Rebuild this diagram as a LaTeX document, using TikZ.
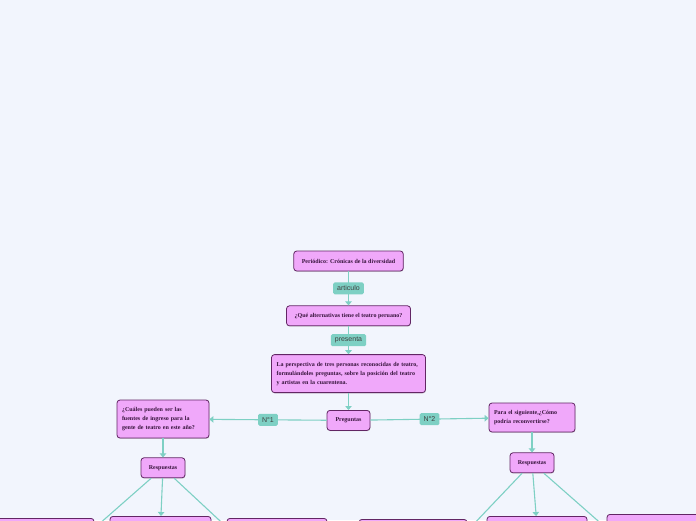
\documentclass[tikz,border=0pt]{standalone}
\usepackage{fontspec}
\setmainfont{Liberation Serif}
\newfontfamily\tagfont{Liberation Sans}
\usepackage{tikz}
\usetikzlibrary{arrows.meta, positioning, shadows}
\definecolor{mmbg}{RGB}{242,245,253}
\definecolor{mmpink}{RGB}{240,168,250}
\definecolor{mmborder}{RGB}{98,38,100}
\definecolor{mmteal}{RGB}{126,208,196}
\definecolor{mmtext}{RGB}{55,20,60}

\begin{document}
\begin{tikzpicture}[
  x=1pt, y=-1pt,
  topic/.style={
    rectangle, rounded corners=3pt,
    draw=mmborder, line width=0.8pt, fill=mmpink,
    drop shadow={shadow xshift=0.4pt, shadow yshift=-0.8pt, opacity=0.35},
    minimum height=20pt, inner xsep=8pt,
    font=\fontsize{6}{9}\selectfont\bfseries, text=mmtext
  },
  para/.style={topic, align=left, inner xsep=5pt},
  tag/.style={
    rectangle, rounded corners=1.5pt, fill=mmteal,
    font=\tagfont\fontsize{7}{8}\selectfont, text=black!75,
    inner xsep=4pt, inner ysep=1pt, minimum height=12pt
  },
  arrow/.style={-{Triangle[length=4pt, width=6.5pt]}, line width=1.1pt, color=mmteal},
  link/.style={line width=1.1pt, color=mmteal}
]
  \useasboundingbox (0,0) rectangle (696,520);
  \fill[mmbg] (0,0) rectangle (696,520);
  \clip (0,0) rectangle (696,520);

  \node[topic, minimum width=109pt] (per) at (348.5,261) {Periódico: Crónicas de la diversidad};
  \node[topic, minimum width=124pt, below=34pt of per] (alt) {¿Qué alternativas tiene el teatro peruano?};
  \node[para, text width=144pt, minimum height=38pt, below=28pt of alt] (pers) {La perspectiva de tres personas reconocidas de teatro,\\formulándoles preguntas, sobre la posición del teatro\\y artistas en la cuarentena.};
  \node[topic, minimum width=43pt, inner xsep=3pt, below=17pt of pers] (preg) {Preguntas};
  \node[para, text width=82pt, minimum height=38pt] (q1) at (163,419) {¿Cuáles pueden ser las\\fuentes de ingreso para la\\gente de teatro en este año?};
  \node[para, text width=76pt, minimum height=29pt] (q2) at (532,417.5) {Para el siguiente,¿Cómo\\podría reconvertirse?};
  \node[topic, minimum width=44pt, inner xsep=3pt, below=19pt of q1] (resp1) {Respuestas};
  \node[topic, minimum width=44pt, inner xsep=3pt, below=20pt of q2] (resp2) {Respuestas};

  \node[topic, minimum width=100pt, anchor=north] (ansa) at (44,518) {};
  \node[topic, minimum width=101pt, anchor=north] (ansb) at (160.5,516) {};
  \node[topic, minimum width=100pt, anchor=north] (ansc) at (277,518) {};
  \node[topic, minimum width=108pt, anchor=north] (ansd) at (413,519) {};
  \node[topic, minimum width=100pt, anchor=north] (anse) at (537,516) {};
  \node[topic, minimum width=100pt, anchor=north] (ansf) at (657,514) {};

  \coordinate (offa) at (73.5,546.5);
  \coordinate (offb) at (247.5,546.5);
  \coordinate (offc) at (450,549);
  \coordinate (offd) at (630,549);

  \draw[arrow] (per) -- node[tag] {articulo} (alt);
  \draw[arrow] (alt) -- node[tag] {presenta} (pers);
  \draw[arrow] (pers) -- (preg);
  \draw[arrow] (preg) -- node[tag] {N°1} (q1);
  \draw[arrow] (preg) -- node[tag] {N°2} (q2);
  \draw[arrow] (q1) -- (resp1);
  \draw[arrow] (q2) -- (resp2);
  \draw[arrow] (resp1) -- (ansb);
  \draw[arrow] (resp2) -- (anse);
  \draw[link] (resp1) -- (offa);
  \draw[link] (resp1) -- (offb);
  \draw[link] (resp2) -- (offc);
  \draw[link] (resp2) -- (offd);
\end{tikzpicture}
\end{document}
